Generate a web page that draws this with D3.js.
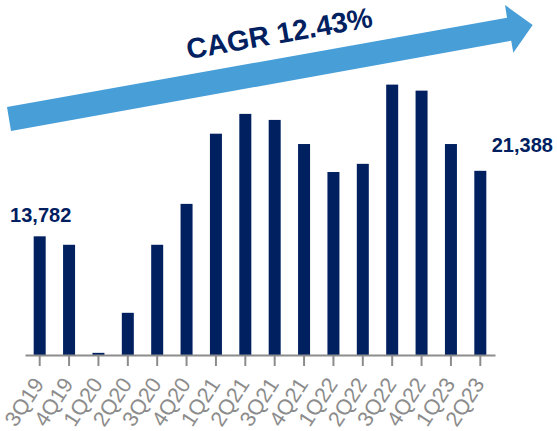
<!DOCTYPE html>
<html>
<head>
<meta charset="utf-8">
<script src="https://cdn.jsdelivr.net/npm/d3@7"></script>
<style>
  body { margin: 0; background: #fff; }
  svg { display: block; font-family: "Liberation Sans", Arial, sans-serif; }
</style>
</head>
<body>
<div id="main"></div>
<script>
// quarters and values
const quarters = ["3Q19", "4Q19", "1Q20", "2Q20", "3Q20", "4Q20", "1Q21", "2Q21",
                  "3Q21", "4Q21", "1Q22", "2Q22", "3Q22", "4Q22", "1Q23", "2Q23"];
const values = [13782, 12800, 250, 4900, 12800, 17550, 25700, 28000,
                27300, 24500, 21250, 22200, 31400, 30700, 24500, 21388];
const labelled = ["3Q19", "2Q23"];
const cagrText = "CAGR 12.43%";

const width = 557, height = 431;
const baseY = 355;

const svg = d3.select("#main").append("svg")
    .attr("width", width)
    .attr("height", height);

const x = d3.scaleBand().domain(quarters).range([25, 495]).padding(0);
const y = d3.scaleLinear().domain([0, 36000]).range([baseY, 45]);
const barW = 12;

// trend arrow
const arrowPts = [[7, 107], [507, 17.7], [505, 5], [532.7, 25], [513.3, 52.7], [511.2, 40.7], [11, 131]];
svg.append("polygon")
    .attr("points", arrowPts.map(p => p.join(",")).join(" "))
    .attr("fill", "#489fd8");

svg.append("text")
    .attr("transform", "translate(281,43) rotate(-10)")
    .attr("text-anchor", "middle")
    .attr("fill", "#002060")
    .style("font-size", "28.5px")
    .style("font-weight", "bold")
    .text(cagrText);

// bars
svg.selectAll(".bar")
    .data(quarters)
    .enter().append("rect")
    .attr("class", "bar")
    .attr("x", (d) => x(d) + x.bandwidth() / 2 - barW / 2)
    .attr("width", barW)
    .attr("y", (d, i) => y(values[i]))
    .attr("height", (d, i) => baseY - y(values[i]))
    .attr("fill", "#002060");

// x axis
const axis = svg.append("g")
    .attr("transform", "translate(0," + baseY + ")")
    .call(d3.axisBottom(x).tickSize(11).tickSizeOuter(0));

axis.select(".domain").attr("stroke", "#8c8c8c").attr("stroke-width", 2);
axis.selectAll(".tick line").attr("stroke", "#8c8c8c").attr("stroke-width", 2);
axis.selectAll(".tick text")
    .attr("x", 0).attr("y", 0).attr("dy", 0)
    .attr("transform", "translate(5,29) rotate(-57)")
    .style("text-anchor", "end")
    .style("font-size", "21.5px")
    .style("font-family", "'Liberation Sans', Arial, sans-serif")
    .attr("fill", "#8c8c8c");

// value labels on first and last bars
const fmt = d3.format(",");
svg.append("text")
    .attr("x", x(labelled[0]) + x.bandwidth() / 2 + 1)
    .attr("y", 222)
    .attr("text-anchor", "middle")
    .attr("fill", "#002060")
    .style("font-size", "20px")
    .style("font-weight", "bold")
    .text(fmt(values[quarters.indexOf(labelled[0])]));

svg.append("text")
    .attr("x", x(labelled[1]) + x.bandwidth() / 2 + 42)
    .attr("y", 152)
    .attr("text-anchor", "middle")
    .attr("fill", "#002060")
    .style("font-size", "20px")
    .style("font-weight", "bold")
    .text(fmt(values[quarters.indexOf(labelled[1])]));
</script>
</body>
</html>
